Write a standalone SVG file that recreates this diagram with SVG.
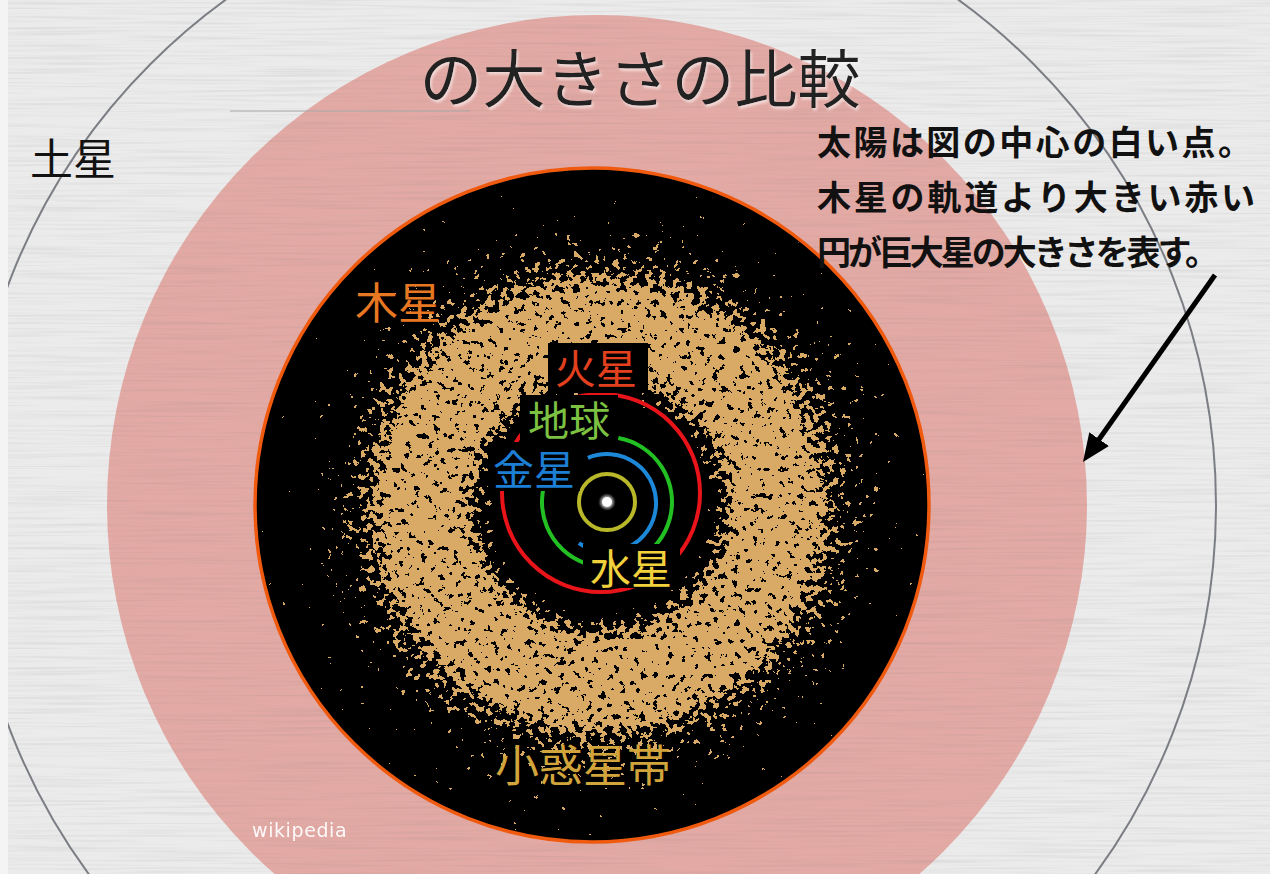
<svg xmlns="http://www.w3.org/2000/svg" width="1270" height="874" viewBox="0 0 1270 874">
  <defs>
    <style>
      .jp { font-family: "Noto Sans CJK JP", "Noto Sans CJK SC", sans-serif; }
      .label { font-size: 43px; }
      .inner { font-size: 41px; }
      .note { font-size: 34px; font-weight: 700; fill: #111111; }
      .orbit { fill: none; stroke-width: 4; }
      .tag { fill: #000000; }
    </style>

    <!-- density of the asteroid belt, fed into the grain filter -->
    <radialGradient id="beltDensity" gradientUnits="userSpaceOnUse" cx="600" cy="505" r="330">
      <stop offset="0" stop-color="#fff" stop-opacity="0"/>
      <stop offset="0.29" stop-color="#fff" stop-opacity="0.1"/>
      <stop offset="0.36" stop-color="#fff" stop-opacity="0.6"/>
      <stop offset="0.42" stop-color="#fff" stop-opacity="0.95"/>
      <stop offset="0.47" stop-color="#fff" stop-opacity="1"/>
      <stop offset="0.64" stop-color="#fff" stop-opacity="1"/>
      <stop offset="0.70" stop-color="#fff" stop-opacity="0.72"/>
      <stop offset="0.78" stop-color="#fff" stop-opacity="0.5"/>
      <stop offset="0.88" stop-color="#fff" stop-opacity="0.36"/>
      <stop offset="1" stop-color="#fff" stop-opacity="0.3"/>
    </radialGradient>

    <!-- turns the density field into sharp tan flecks -->
    <filter id="grain" filterUnits="userSpaceOnUse" x="255" y="165" width="680" height="680" color-interpolation-filters="sRGB">
      <feTurbulence type="fractalNoise" baseFrequency="0.15" numOctaves="3" seed="7" result="noise"/>
      <feColorMatrix in="noise" type="matrix" values="0 0 0 0 1  0 0 0 0 1  0 0 0 0 1  1 0 0 0 0" result="nA"/>
      <feComposite in="SourceGraphic" in2="nA" operator="arithmetic" k1="0" k2="1.364" k3="2" k4="-1.564" result="mix"/>
      <feComponentTransfer in="mix" result="mask">
        <feFuncA type="discrete" tableValues="0 1"/>
      </feComponentTransfer>
      <feFlood flood-color="#d9aa66"/>
      <feComposite in2="mask" operator="in"/>
    </filter>

    <!-- faint horizontal paper streaks -->
    <filter id="paper" filterUnits="userSpaceOnUse" x="0" y="0" width="1270" height="874" color-interpolation-filters="sRGB">
      <feTurbulence type="fractalNoise" baseFrequency="0.008 0.4" numOctaves="2" seed="2"/>
      <feColorMatrix type="matrix" values="0 0 0 0 0.4  0 0 0 0 0.4  0 0 0 0 0.4  0.26 0 0 0 -0.115"/>
    </filter>

    <filter id="emboss" x="-5%" y="-20%" width="110%" height="140%">
      <feDropShadow dx="1.5" dy="2.5" stdDeviation="1" flood-color="#ffffff" flood-opacity="0.55"/>
    </filter>

    <filter id="glow" x="-100%" y="-100%" width="300%" height="300%">
      <feGaussianBlur stdDeviation="1.2"/>
    </filter>

    <clipPath id="diskClip">
      <circle cx="592" cy="505" r="334"/>
    </clipPath>

    <marker id="arrowHead" markerUnits="userSpaceOnUse" markerWidth="30" markerHeight="26" refX="16" refY="12" orient="auto">
      <path d="M0,0 L28,12 L0,24 Z" fill="#000"/>
    </marker>
  </defs>

  <!-- background paper -->
  <rect x="0" y="0" width="1270" height="874" fill="#ebebeb"/>

  <!-- red giant disc -->
  <g id="red-giant">
    <circle cx="597" cy="505" r="490" fill="#e3aaa5"/>
  </g>

  <!-- Saturn orbit -->
  <g id="saturn-orbit">
    <circle cx="592" cy="505" r="624" fill="none" stroke="#7b7e84" stroke-width="2"/>
  </g>

  <rect x="0" y="0" width="1270" height="874" filter="url(#paper)"/>

  <!-- rule under the title -->
  <line x1="230" y1="111" x2="470" y2="111" stroke="#a9a9a9" stroke-width="1.5" opacity="0.7"/>

  <!-- Jupiter orbit disc -->
  <g id="jupiter-orbit">
    <circle cx="592" cy="505" r="337" fill="#000" stroke="#f05a0f" stroke-width="3.5"/>
  </g>

  <!-- asteroid belt -->
  <g id="asteroid-belt" clip-path="url(#diskClip)">
    <rect x="255" y="165" width="680" height="680" fill="url(#beltDensity)" filter="url(#grain)"/>
  </g>

  <!-- inner planet orbits -->
  <g id="orbits">
    <circle id="mars-orbit" class="orbit" cx="601" cy="493" r="99" stroke="#e8141a"/>
    <path id="earth-orbit" class="orbit" stroke="#22c022" d="M618.3,438 A65,65 0 1 1 548.1,474.5"/>
    <path id="venus-orbit" class="orbit" stroke="#1e88d8" d="M587.9,457.9 A49,49 0 1 1 578.9,543.1"/>
    <circle id="mercury-orbit" class="orbit" cx="607" cy="502" r="28" stroke="#b8b82a"/>
  </g>

  <!-- the Sun -->
  <g id="sun">
    <circle cx="607" cy="502" r="7" fill="#ffffff" opacity="0.6" filter="url(#glow)"/>
    <circle cx="607" cy="502" r="5" fill="#ffffff"/>
  </g>

  <!-- planet labels -->
  <g id="label-mars">
    <rect class="tag" x="548" y="343" width="100" height="50"/>
    <text class="jp inner" x="555" y="384" fill="#e2401f">火星</text>
  </g>
  <g id="label-earth">
    <rect class="tag" x="520" y="395" width="98" height="46"/>
    <text class="jp inner" x="528" y="436" fill="#7cc142">地球</text>
  </g>
  <g id="label-venus">
    <rect class="tag" x="488" y="442" width="92" height="49"/>
    <text class="jp inner" x="493" y="485" fill="#1c7fd4">金星</text>
  </g>
  <g id="label-mercury">
    <rect class="tag" x="583" y="544" width="97" height="44"/>
    <text class="jp inner" x="590" y="584" fill="#f2d23c">水星</text>
  </g>
  <g id="label-jupiter">
    <text class="jp label" x="355" y="319" fill="#e87722">木星</text>
  </g>
  <g id="label-saturn">
    <text class="jp label" x="30" y="175" fill="#111111">土星</text>
  </g>
  <g id="label-belt">
    <text class="jp" x="495" y="782" font-size="44" fill="#d1a43c">小惑星帯</text>
  </g>

  <!-- title -->
  <g id="title">
    <text class="jp" x="640" y="102" font-size="63" font-weight="400" text-anchor="middle" fill="#222222" filter="url(#emboss)">の大きさの比較</text>
  </g>

  <!-- explanatory note -->
  <g id="note">
    <text class="jp note" x="817" y="155" textLength="435" lengthAdjust="spacing">太陽は図の中心の白い点。</text>
    <text class="jp note" x="817" y="210" textLength="438" lengthAdjust="spacing">木星の軌道より大きい赤い</text>
    <text class="jp note" x="817" y="265" textLength="402" lengthAdjust="spacing">円が巨大星の大きさを表す。</text>
  </g>

  <!-- connector -->
  <g id="connectors">
    <line x1="1215" y1="275" x2="1089.9" y2="452.2" stroke="#000" stroke-width="5" marker-end="url(#arrowHead)"/>
  </g>

  <!-- credit -->
  <g id="credit">
    <text x="252" y="837" font-family="DejaVu Sans, sans-serif" font-size="19" letter-spacing="0.6" fill="#ffffff" opacity="0.92">wikipedia</text>
  </g>

  <!-- left margin strip -->
  <rect x="0" y="0" width="8" height="874" fill="#f4f4f4"/>
</svg>
